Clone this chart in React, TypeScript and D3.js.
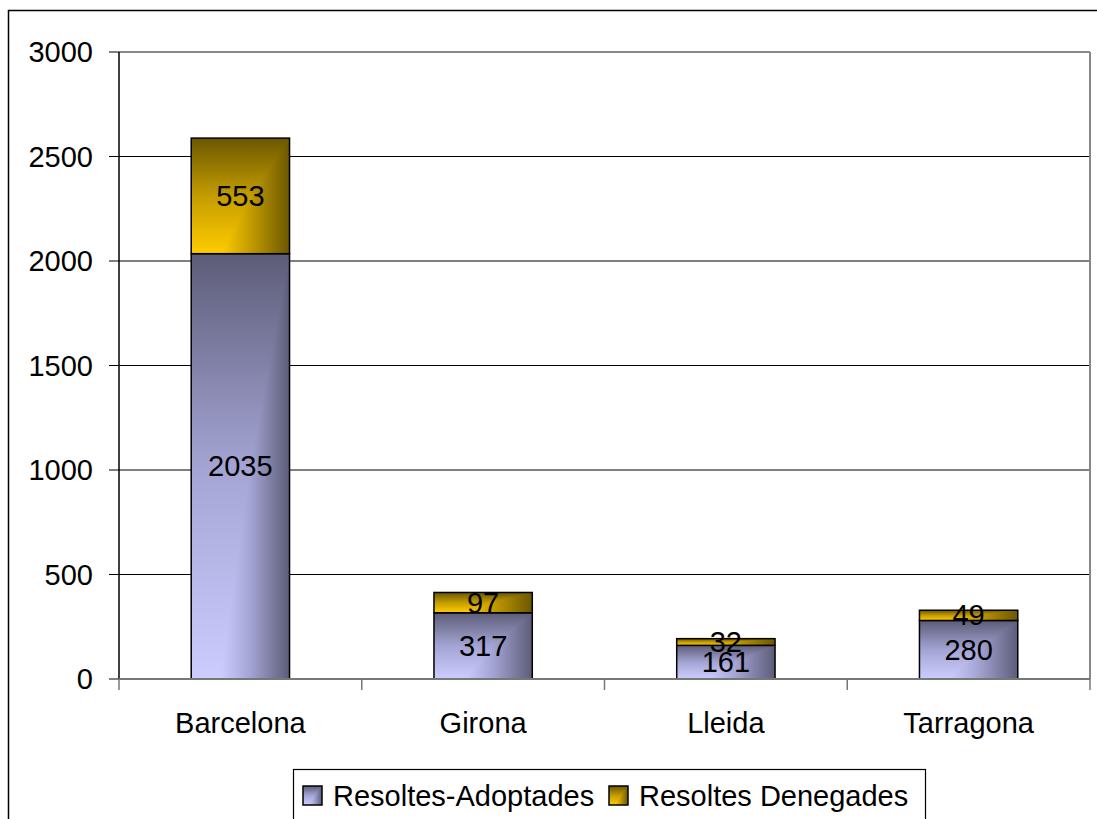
import * as d3 from 'd3'

const categories = ['Barcelona', 'Girona', 'Lleida', 'Tarragona']
const adoptades = [2035, 317, 161, 280]
const denegades = [553, 97, 32, 49]
const seriesNames = ['Resoltes-Adoptades', 'Resoltes Denegades']
const yTicks = [0, 500, 1000, 1500, 2000, 2500, 3000]

const W = 1097
const H = 819
const plot = { left: 119, right: 1090, top: 52, bottom: 679 }
const font = '"Liberation Sans", Arial, sans-serif'
const fs = 29

// light corner / dark corner of each series
const palette = [
  { light: '#ccccff', mid: '#a4a4d4', dark: '#5c5c78' },
  { light: '#ffcc00', mid: '#c49c00', dark: '#6b5700' },
]

function Gradients() {
  return (
    <defs>
      {palette.map((c, i) => (
        <g key={i}>
          <linearGradient id={`h${i}`} x1="0" y1="0" x2="1" y2="0">
            <stop offset="0" stopColor={c.light} />
            <stop offset="0.3" stopColor={c.light} />
            <stop offset="0.6" stopColor={c.mid} />
            <stop offset="1" stopColor={c.dark} />
          </linearGradient>
          <linearGradient id={`v${i}`} x1="0" y1="1" x2="0" y2="0">
            <stop offset="0" stopColor={c.light} />
            <stop offset="0.5" stopColor={c.mid} />
            <stop offset="1" stopColor={c.dark} />
          </linearGradient>
        </g>
      ))}
    </defs>
  )
}

// rectangular "from corner" fill: darken of a horizontal and a vertical ramp
function ShadedRect({ x, y, w, h, s }: { x: number; y: number; w: number; h: number; s: number }) {
  return (
    <g style={{ isolation: 'isolate' }}>
      <rect x={x} y={y} width={w} height={h} fill={`url(#h${s})`} />
      <rect x={x} y={y} width={w} height={h} fill={`url(#v${s})`} style={{ mixBlendMode: 'darken' }} />
      <rect x={x} y={y} width={w} height={h} fill="none" stroke="#000" strokeWidth={1.5} />
    </g>
  )
}

export default function App() {
  const y = d3.scaleLinear().domain([0, 3000]).range([plot.bottom, plot.top])
  const x = d3.scaleBand().domain(categories).range([plot.left, plot.right]).padding(0)
  const barW = x.bandwidth() * 0.405

  const stacked = d3.stack<number>().keys(['a', 'd']).value((i, k) => (k === 'a' ? adoptades[i] : denegades[i]))(
    categories.map((_, i) => i)
  )

  return (
    <svg width={W} height={H} style={{ position: 'absolute', left: 0, top: 0 }} fontFamily={font}>
      <Gradients />
      <rect x={0} y={0} width={W} height={H} fill="#fff" />
      <rect x={8.5} y={10.5} width={W + 20} height={H + 20} fill="none" stroke="#000" strokeWidth={1.5} />

      {/* gridlines */}
      {yTicks.slice(1, -1).map((t) => (
        <line key={t} x1={plot.left} x2={plot.right} y1={y(t)} y2={y(t)} stroke="#000" strokeWidth={1} />
      ))}
      <line x1={plot.left} x2={plot.right} y1={plot.top} y2={plot.top} stroke="#888" strokeWidth={2} />
      <line x1={plot.right} x2={plot.right} y1={plot.top} y2={plot.bottom} stroke="#888" strokeWidth={2} />

      {/* bars */}
      {stacked.map((layer, s) =>
        layer.map((d, i) => {
          const x0 = (x(categories[i]) ?? 0) + (x.bandwidth() - barW) / 2
          return <ShadedRect key={`${s}-${i}`} x={x0} y={y(d[1])} w={barW} h={y(d[0]) - y(d[1])} s={s} />
        })
      )}
      {stacked.map((layer, s) =>
        layer.map((d, i) => (
          <text
            key={`t${s}-${i}`}
            x={(x(categories[i]) ?? 0) + x.bandwidth() / 2}
            y={(y(d[0]) + y(d[1])) / 2 + 10}
            textAnchor="middle"
            fontSize={fs}
            fill="#000"
          >
            {d[1] - d[0]}
          </text>
        ))
      )}

      {/* y axis */}
      <line x1={plot.left} x2={plot.left} y1={plot.top} y2={plot.bottom} stroke="#000" strokeWidth={1.5} />
      {yTicks.map((t) => (
        <g key={t}>
          <line x1={plot.left - 10} x2={plot.left} y1={y(t)} y2={y(t)} stroke="#000" strokeWidth={1} />
          <text x={93} y={y(t) + 10} textAnchor="end" fontSize={fs}>
            {t}
          </text>
        </g>
      ))}

      {/* x axis */}
      <line x1={plot.left} x2={plot.right} y1={plot.bottom} y2={plot.bottom} stroke="#777" strokeWidth={2} />
      {categories.map((c) => (
        <g key={c}>
          <line x1={x(c) ?? 0} x2={x(c) ?? 0} y1={plot.bottom} y2={plot.bottom + 11} stroke="#777" strokeWidth={1.5} />
          <text x={(x(c) ?? 0) + x.bandwidth() / 2} y={733} textAnchor="middle" fontSize={fs}>
            {c}
          </text>
        </g>
      ))}
      <line x1={plot.right} x2={plot.right} y1={plot.bottom} y2={plot.bottom + 11} stroke="#777" strokeWidth={1.5} />

      {/* legend */}
      <rect x={293.5} y={769.5} width={632} height={60} fill="#fff" stroke="#000" strokeWidth={1.2} />
      {seriesNames.map((n, s) => {
        const lx = s === 0 ? 303 : 609
        return (
          <g key={n}>
            <ShadedRect x={lx} y={786} w={19} h={19} s={s} />
            <text x={lx + 30} y={806} fontSize={fs}>
              {n}
            </text>
          </g>
        )
      })}
    </svg>
  )
}
